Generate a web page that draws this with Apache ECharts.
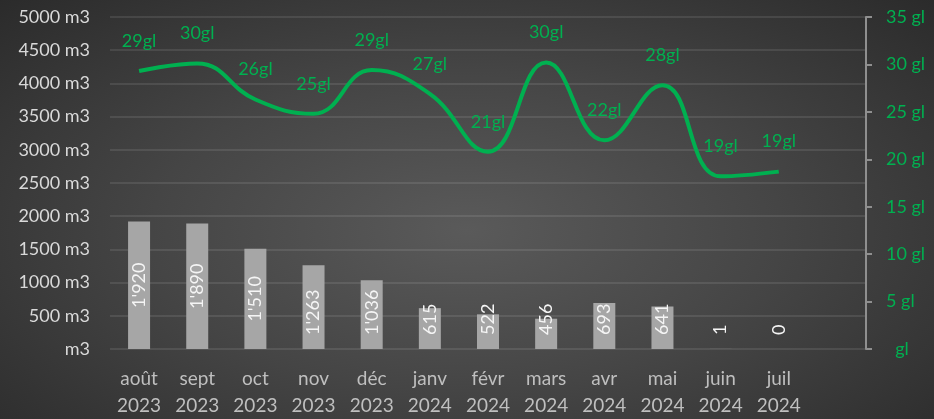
<!DOCTYPE html>
<html>
<head>
<meta charset="utf-8">
<script src="https://cdn.jsdelivr.net/npm/echarts@6/dist/echarts.min.js"></script>
<style>
html,body{margin:0;padding:0;}
#chart{width:934px;height:419px;background:radial-gradient(ellipse 75% 85% at 50% 55%, #5a5a5a 0%, #454545 45%, #272727 100%);}
</style>
</head>
<body>
<div id="chart"></div>
<script>
const months = ['août\n2023','sept\n2023','oct\n2023','nov\n2023','déc\n2023','janv\n2024','févr\n2024','mars\n2024','avr\n2024','mai\n2024','juin\n2024','juil\n2024',''];
const volumes = [1920, 1890, 1510, 1263, 1036, 615, 522, 456, 693, 641, 1, 0, null];
const degrees = [29.3, 30.1, 26.3, 24.8, 29.4, 26.9, 20.8, 30.2, 22.0, 27.8, 18.2, 18.7, null];
const degreeLabels = ['29gl','30gl','26gl','25gl','29gl','27gl','21gl','30gl','22gl','28gl','19gl','19gl',''];
const leftTicks = [0, 500, 1000, 1500, 2000, 2500, 3000, 3500, 4000, 4500, 5000];
const rightTicks = [0, 5, 10, 15, 20, 25, 30, 35];

const FONT = 'Lato, "Open Sans", sans-serif';
function fmtVol(v){
  const s = String(Math.round(v));
  return s.length > 3 ? s.slice(0, s.length-3) + "'" + s.slice(s.length-3) : s;
}
const barData = volumes.map(v => {
  if (v === null) return null;
  const big = v >= 1500;
  return {
    value: v,
    label: big ? {position:'inside', rotate:90, align:'center', verticalAlign:'middle'}
               : {position:'insideBottom', distance:14, rotate:90, align:'left', verticalAlign:'middle'}
  };
});

const chart = echarts.init(document.getElementById('chart'), null, {renderer:'canvas'});
chart.setOption({
  backgroundColor: 'transparent',
  animation: false,
  textStyle: {fontFamily: FONT},
  grid: {left:110, right:68, top:17, bottom:66.5, containLabel:false},
  xAxis: {
    type:'category', data: months,
    axisLine:{show:false}, axisTick:{show:false},
    axisLabel:{color:'#bfbfbf', fontSize:19, lineHeight:27, margin:16, fontFamily:FONT, interval:0}
  },
  yAxis: [
    {
      type:'value', min:leftTicks[0], max:leftTicks[leftTicks.length-1], interval:500,
      axisLine:{show:false}, axisTick:{show:false},
      axisLabel:{color:'#d9d9d9', fontSize:18, margin:20, fontFamily:FONT,
        formatter: v => (v === 0 ? '' : v) + ' m3'},
      splitLine:{lineStyle:{color:'rgba(255,255,255,0.13)', width:1.5}}
    },
    {
      type:'value', min:rightTicks[0], max:rightTicks[rightTicks.length-1], interval:5, position:'right',
      axisLine:{show:true, lineStyle:{color:'#8f8f8f', width:2}},
      axisTick:{show:true, inside:false, length:6, lineStyle:{color:'#8f8f8f', width:2}},
      axisLabel:{color:'#00b050', fontSize:18, margin:20, fontFamily:FONT,
        formatter: v => (v === 0 ? ' ' : v) + ' gl'},
      splitLine:{show:false}
    }
  ],
  series: [
    {
      type:'bar', yAxisIndex:0, data: barData, barWidth:22,
      itemStyle:{color:'#a6a6a6'},
      label:{show:true, color:'#f5f5f5', fontSize:18, fontFamily:FONT,
        formatter: p => fmtVol(p.value)}
    },
    {
      type:'line', yAxisIndex:1, data: degrees, smooth:0.45,
      symbol:'circle', symbolSize:0, showSymbol:true,
      lineStyle:{color:'#00b050', width:4},
      itemStyle:{color:'#00b050'},
      label:{show:true, position:'top', distance:21, color:'#00b050', fontSize:18, fontFamily:FONT,
        formatter: p => degreeLabels[p.dataIndex]}
    }
  ]
});
</script>
</body>
</html>
